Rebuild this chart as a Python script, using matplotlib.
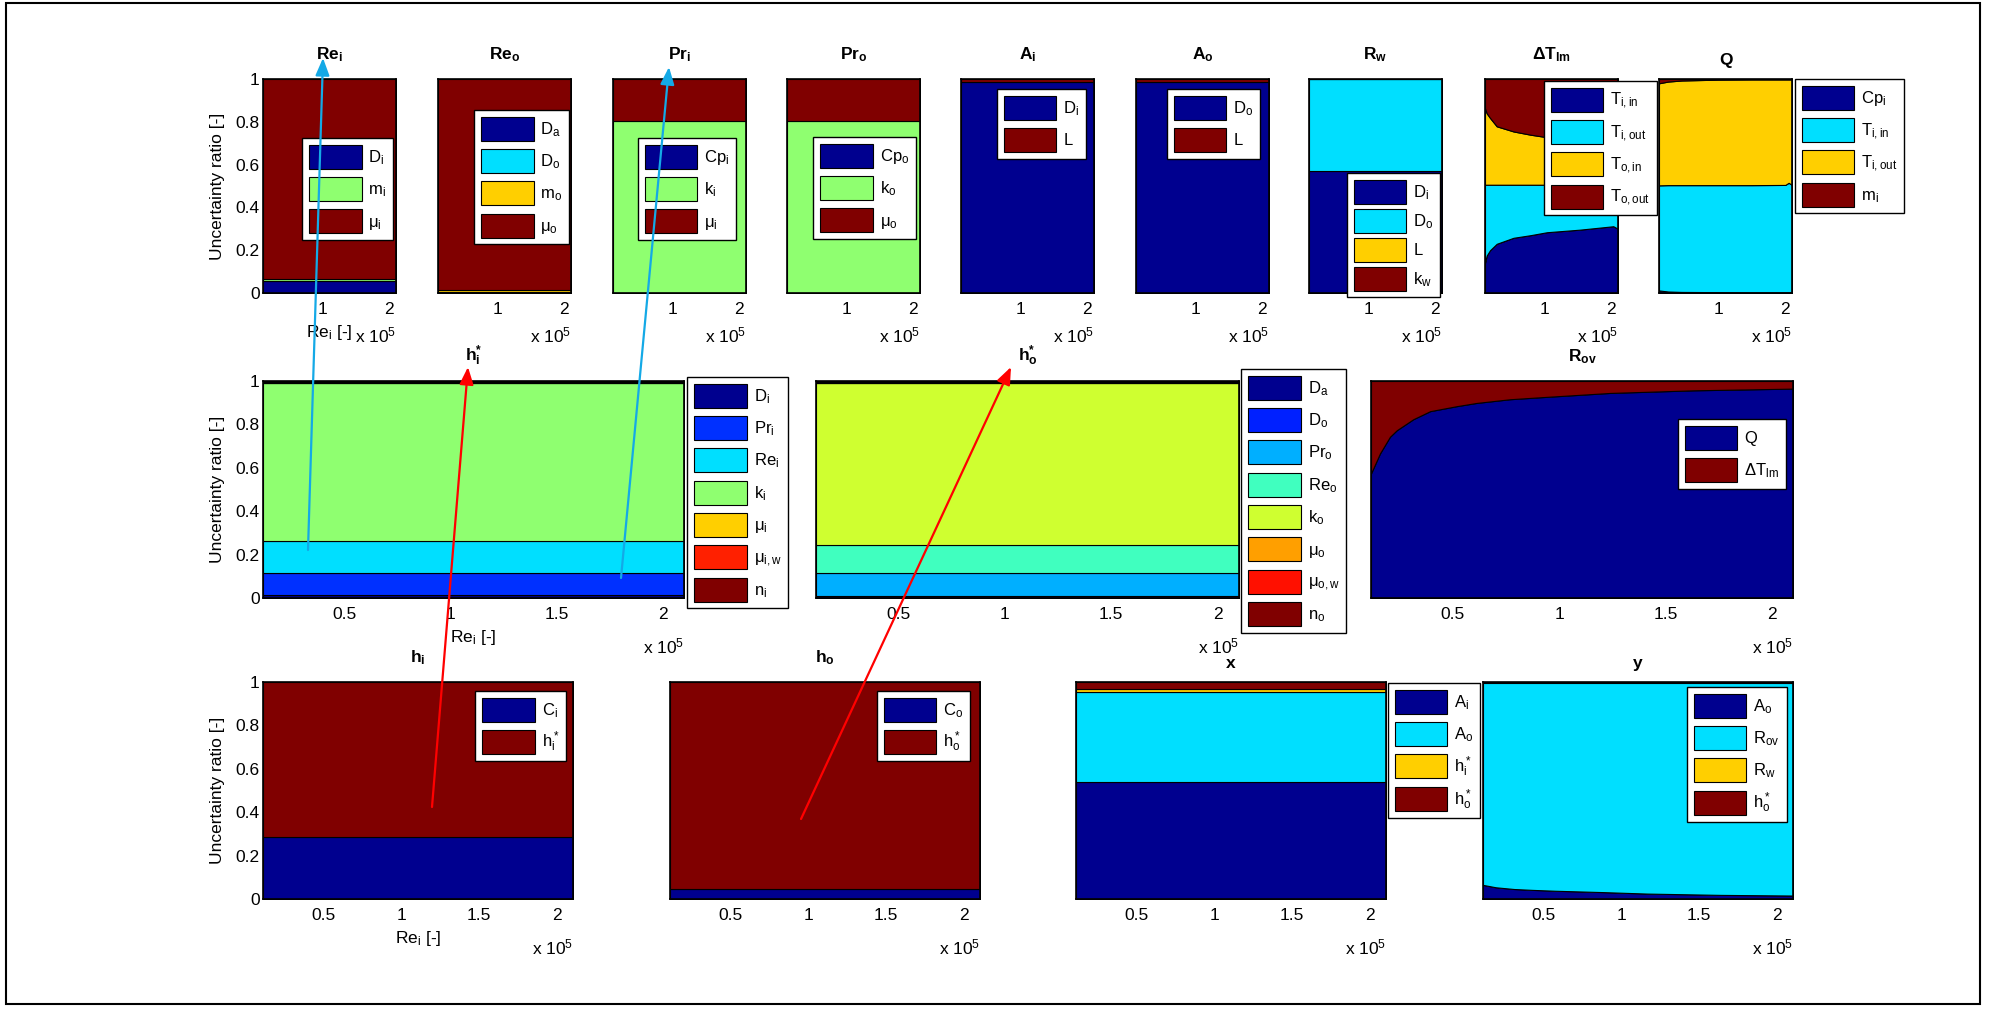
import numpy as np
import matplotlib
matplotlib.use('Agg')
import matplotlib.pyplot as plt
from matplotlib.patches import FancyArrowPatch, Rectangle

plt.rcParams['font.family'] = 'Liberation Sans'
plt.rcParams['mathtext.fontset'] = 'custom'
plt.rcParams['mathtext.rm'] = 'Liberation Sans'
plt.rcParams['mathtext.it'] = 'Liberation Sans'
plt.rcParams['mathtext.bf'] = 'Liberation Sans:bold'
plt.rcParams['mathtext.default'] = 'rm'

W, H = 1990, 1010

# ---------------- datos: fracciones de incertidumbre vs Re_i ----------------
re_flat = [11500, 210000]

# fila superior (constantes en Re_i)
rei_lab = ['D$_i$', 'm$_i$', 'μ$_i$']
rei_val = [0.058, 0.008, 0.934]
reo_lab = ['D$_a$', 'D$_o$', 'm$_o$', 'μ$_o$']
reo_val = [0.004, 0.003, 0.006, 0.987]
pri_lab = ['Cp$_i$', 'k$_i$', 'μ$_i$']
pri_val = [0.002, 0.803, 0.195]
pro_lab = ['Cp$_o$', 'k$_o$', 'μ$_o$']
pro_val = [0.002, 0.803, 0.195]
ai_lab = ['D$_i$', 'L']
ai_val = [0.988, 0.012]
ao_lab = ['D$_o$', 'L']
ao_val = [0.984, 0.016]
rw_lab = ['D$_i$', 'D$_o$', 'L', 'k$_w$']
rw_val = [0.572, 0.426, 0.001, 0.001]

# Delta T_lm
dt_lab = ['T$_{i,in}$', 'T$_{i,out}$', 'T$_{o,in}$', 'T$_{o,out}$']
dt_re = [11500, 14000, 19000, 29000, 54000, 79000, 104000, 153000, 203000, 210000]
dt_tiin = [0.140, 0.175, 0.200, 0.230, 0.258, 0.270, 0.284, 0.296, 0.312, 0.300]
dt_tiout = [0.366, 0.331, 0.306, 0.276, 0.248, 0.236, 0.222, 0.210, 0.194, 0.206]
dt_toin = [0.358, 0.334, 0.312, 0.273, 0.249, 0.234, 0.222, 0.210, 0.198, 0.200]
dt_toout = [0.136, 0.160, 0.182, 0.221, 0.245, 0.260, 0.272, 0.284, 0.296, 0.294]

# Q
q_lab = ['Cp$_i$', 'T$_{i,in}$', 'T$_{i,out}$', 'm$_i$']
q_re = [11500, 25000, 45000, 100000, 150000, 200000, 205000, 210000]
q_cpi = [0.012, 0.007, 0.005, 0.004, 0.003, 0.003, 0.003, 0.003]
q_tiin = [0.491, 0.497, 0.499, 0.500, 0.501, 0.502, 0.512, 0.502]
q_tiout = [0.477, 0.484, 0.489, 0.493, 0.494, 0.493, 0.483, 0.493]
q_mi = [0.020, 0.012, 0.007, 0.003, 0.002, 0.002, 0.002, 0.002]

# fila central
hi_s_lab = ['D$_i$', 'Pr$_i$', 'Re$_i$', 'k$_i$', 'μ$_i$', 'μ$_{i,w}$', 'n$_i$']
hi_s_val = [0.014, 0.101, 0.147, 0.730, 0.001, 0.001, 0.006]
ho_s_lab = ['D$_a$', 'D$_o$', 'Pr$_o$', 'Re$_o$', 'k$_o$', 'μ$_o$', 'μ$_{o,w}$', 'n$_o$']
ho_s_val = [0.010, 0.001, 0.106, 0.128, 0.747, 0.001, 0.001, 0.006]

rov_lab = ['Q', 'ΔT$_{lm}$']
rov_re = [11500, 15700, 20400, 23600, 31400, 39300, 51800, 61200, 76900, 92600, 124000, 163100, 210000]
rov_q = [0.574, 0.666, 0.743, 0.773, 0.824, 0.861, 0.884, 0.899, 0.916, 0.926, 0.945, 0.957, 0.965]
rov_dt = [0.426, 0.334, 0.257, 0.227, 0.176, 0.139, 0.116, 0.101, 0.084, 0.074, 0.055, 0.043, 0.035]

# fila inferior
hi_lab = ['C$_i$', 'h$_i^*$']
hi_val = [0.285, 0.715]
ho_lab = ['C$_o$', 'h$_o^*$']
ho_val = [0.048, 0.952]
x_lab = ['A$_i$', 'A$_o$', 'h$_i^*$', 'h$_o^*$']
x_val = [0.540, 0.414, 0.014, 0.032]

y_lab = ['A$_o$', 'R$_{ov}$', 'R$_w$', 'h$_o^*$']
y_re = [11500, 19700, 31400, 43200, 57900, 87300, 116600, 163500, 210000]
y_ao = [0.065, 0.054, 0.046, 0.042, 0.038, 0.032, 0.025, 0.019, 0.016]
y_rov = [0.9325, 0.9435, 0.9515, 0.9555, 0.9595, 0.9655, 0.9725, 0.9785, 0.9815]
y_rw = [0.0005] * 9
y_ho = [0.002] * 9


# ---------------- colormap jet de MATLAB (64) ----------------
def jet_matlab(m=64):
    n = int(np.ceil(m / 4))
    u = np.concatenate([np.arange(1, n + 1) / n, np.ones(n - 1), np.arange(n, 0, -1) / n])
    g = int(np.ceil(n / 2)) - (1 if m % 4 == 1 else 0) + np.arange(1, len(u) + 1)
    J = np.zeros((m, 3))
    for col, idx in ((0, g + n), (1, g), (2, g - n)):
        ok = (idx >= 1) & (idx <= m)
        J[idx[ok] - 1, col] = u[ok]
    return J

JET = jet_matlab()

def area_colors(k):
    return [JET[min(int((c - 1) / (k - 1) * 64), 63)] for c in range(1, k + 1)]


fig = plt.figure(figsize=(W / 100, H / 100), dpi=100)

def note(ax, s, fx, fy, dx, dy, **kw):
    # dx, dy en pixeles
    ax.annotate(s, xy=(fx, fy), xycoords='axes fraction', xytext=(dx * 0.72, dy * 0.72),
                textcoords='offset points', fontsize=12.5, **kw)

def panel(rect, re, parts, labels, title, leg_at, row, first=False, lsp=0.5):
    l, t, r, b = rect
    ax = fig.add_axes([l / W, 1 - b / H, (r - l) / W, (b - t) / H])
    ys = np.array([np.broadcast_to(np.asarray(p, float), (len(re),)) for p in parts])
    ax.stackplot(re, ys, colors=area_colors(len(parts)), labels=labels,
                 edgecolor='k', linewidth=0.8)
    ax.set_xlim(re[0], re[-1])
    ax.set_ylim(0, 1)
    if row == 0:
        xt = [100000, 200000]
    else:
        xt = [50000, 100000, 150000, 200000]
    ax.set_xticks(xt)
    ax.set_xticklabels(['%g' % (v / 1e5) for v in xt])
    if first:
        ax.set_yticks([0, 0.2, 0.4, 0.6, 0.8, 1])
        ax.set_yticklabels(['0', '0.2', '0.4', '0.6', '0.8', '1'])
        note(ax, 'Uncertainty ratio [-]', 0, 0.5, -45, 0,
             ha='center', va='center', rotation=90)
        note(ax, 'Re$_i$ [-]', 0.5, 0, 0, -44, ha='center', va='baseline')
    else:
        ax.set_yticks([])
    ax.tick_params(length=0, labelsize=12.5)
    ax.tick_params(axis='x', pad=6.5)
    ax.tick_params(axis='y', pad=2.5)
    for s in ax.spines.values():
        s.set_linewidth(1.2)
    # titulo: los que llevan subindice quedan algo mas altos
    note(ax, title, 0.5, 1, 0, 20 if '$' in title else 14, ha='center', va='baseline',
         fontweight='bold')
    note(ax, 'x 10$^5$', 1, 0, 0, -49 if row == 0 else -55, ha='right', va='baseline')
    leg = ax.legend(loc='upper left', bbox_to_anchor=(leg_at[0] / W, 1 - leg_at[1] / H),
                    bbox_transform=fig.transFigure, borderaxespad=0, fancybox=False,
                    framealpha=1, edgecolor='k', fontsize=12, handlelength=3.17,
                    handleheight=1.84, labelspacing=lsp, handletextpad=0.42, borderpad=0.4)
    leg.get_frame().set_linewidth(1.0)
    return ax


# fila superior
tl = [263, 438, 613, 787, 961, 1136, 1309, 1485, 1659]
panel((tl[0], 79, tl[0] + 133, 293), re_flat, rei_val, rei_lab, 'Re$_\\mathbf{i}$', (302, 138), 0, True)
panel((tl[1], 79, tl[1] + 133, 293), re_flat, reo_val, reo_lab, 'Re$_\\mathbf{o}$', (474, 110), 0)
panel((tl[2], 79, tl[2] + 133, 293), re_flat, pri_val, pri_lab, 'Pr$_\\mathbf{i}$', (638, 138), 0)
panel((tl[3], 79, tl[3] + 133, 293), re_flat, pro_val, pro_lab, 'Pr$_\\mathbf{o}$', (813, 137), 0)
panel((tl[4], 79, tl[4] + 133, 293), re_flat, ai_val, ai_lab, 'A$_\\mathbf{i}$', (997, 89), 0)
panel((tl[5], 79, tl[5] + 133, 293), re_flat, ao_val, ao_lab, 'A$_\\mathbf{o}$', (1167, 89), 0)
panel((tl[6], 79, tl[6] + 133, 293), re_flat, rw_val, rw_lab, 'R$_\\mathbf{w}$', (1347, 173), 0, lsp=0.3)
panel((tl[7], 79, tl[7] + 133, 293), dt_re, [dt_tiin, dt_tiout, dt_toin, dt_toout], dt_lab,
      'ΔT$_\\mathbf{lm}$', (1544, 81), 0)
panel((tl[8], 79, tl[8] + 133, 293), q_re, [q_cpi, q_tiin, q_tiout, q_mi], q_lab,
      'Q', (1795, 79), 0)

# fila central
panel((263, 381, 684, 598), re_flat, hi_s_val, hi_s_lab, 'h$_\\mathbf{i}^\\mathbf{*}$', (687, 377), 1, True)
panel((816, 381, 1239, 598), re_flat, ho_s_val, ho_s_lab, 'h$_\\mathbf{o}^\\mathbf{*}$', (1241, 369), 1)
panel((1371, 381, 1793, 598), rov_re, [rov_q, rov_dt], rov_lab, 'R$_\\mathbf{ov}$', (1678, 419), 1)

# fila inferior
panel((263, 682, 573, 899), re_flat, hi_val, hi_lab, 'h$_\\mathbf{i}$', (475, 691), 2, True)
panel((670, 682, 980, 899), re_flat, ho_val, ho_lab, 'h$_\\mathbf{o}$', (877, 691), 2)
panel((1076, 682, 1386, 899), re_flat, x_val, x_lab, 'x', (1388, 683), 2)
panel((1483, 682, 1793, 899), y_re, [y_ao, y_rov, y_rw, y_ho], y_lab, 'y', (1687, 687), 2)

# flechas que enlazan las variables entre filas y marco exterior
ov = fig.add_axes([0, 0, 1, 1])
ov.set_xlim(0, W)
ov.set_ylim(H, 0)
ov.axis('off')
flechas = [((308, 550), (323, 58), '#14A9E6'),
           ((621, 578), (669, 67), '#14A9E6'),
           ((432, 807), (468, 367), '#FF0000'),
           ((801, 819), (1011, 367), '#FF0000')]
for a, b, c in flechas:
    ov.add_patch(FancyArrowPatch(a, b, arrowstyle='-|>,head_length=0.75,head_width=0.3',
                                 mutation_scale=14, color=c, lw=1.6, shrinkA=0, shrinkB=0))
ov.add_patch(Rectangle((6, 3), 1974, 1001, fill=False, lw=1.5, ec='k'))

fig.savefig('out.png', dpi=100)
